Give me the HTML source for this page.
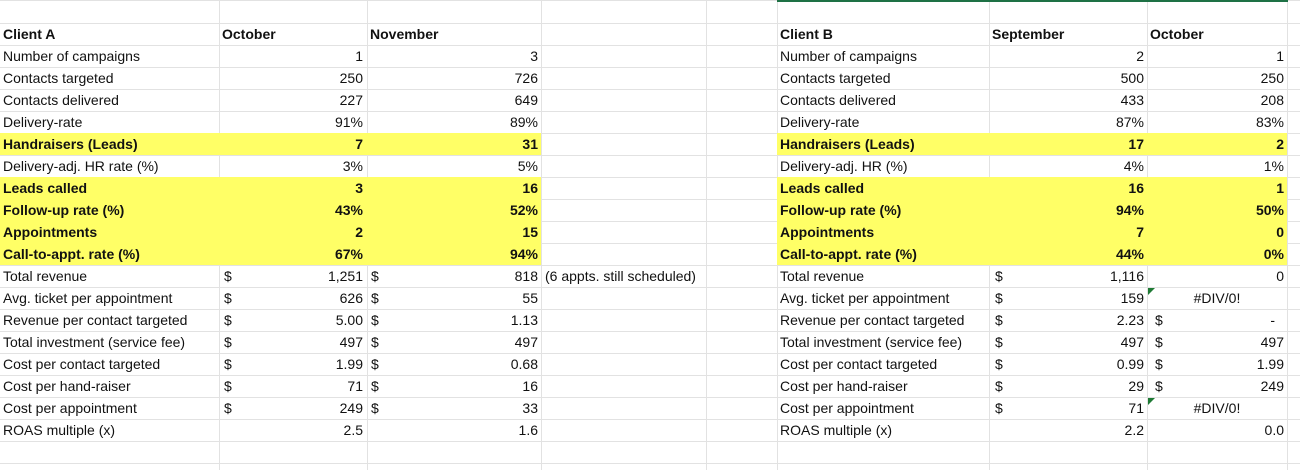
<!DOCTYPE html>
<html><head><meta charset="utf-8"><style>
body{margin:0;width:1300px;height:470px;overflow:hidden;background:#fff;font-family:"Liberation Sans",Arial,sans-serif;font-size:14px;color:#111;position:relative}
.vl{position:absolute;top:0;height:470px;width:1px;background:#e2e2e2}
.hl{position:absolute;left:0;width:1300px;height:1px;background:#e2e2e2}
.y{position:absolute;height:88px;background:#ffff66}
.r{position:absolute;left:0;width:1300px;height:22px;line-height:22px}
.r span{position:absolute;top:0;white-space:nowrap}
.b1 span{font-weight:bold}
.a{left:3px}.f{left:780px}
.b{left:219px;width:144px;text-align:right}
.c{left:367px;width:171px;text-align:right}
.g{left:989px;width:155px;text-align:right}
.h{left:1147px;width:137px;text-align:right}
.hc{left:1147px;width:140px;text-align:center}
.bd{left:224px}.cd{left:371px}.gd{left:995px}.hd{left:1155px}.d{left:545px}
.bh{left:222px}.ch{left:370px}.gh{left:992px}.hh{left:1150px}
.tri{position:absolute;width:0;height:0;border-top:7px solid #1e7a34;border-right:7px solid transparent}
</style></head><body>
<div class="hl" style="top:0"></div>
<div class="hl" style="top:23px"></div><div class="hl" style="top:45px"></div><div class="hl" style="top:67px"></div><div class="hl" style="top:89px"></div><div class="hl" style="top:111px"></div><div class="hl" style="top:133px"></div><div class="hl" style="top:155px"></div><div class="hl" style="top:177px"></div><div class="hl" style="top:199px"></div><div class="hl" style="top:221px"></div><div class="hl" style="top:243px"></div><div class="hl" style="top:265px"></div><div class="hl" style="top:287px"></div><div class="hl" style="top:309px"></div><div class="hl" style="top:331px"></div><div class="hl" style="top:353px"></div><div class="hl" style="top:375px"></div><div class="hl" style="top:397px"></div><div class="hl" style="top:419px"></div><div class="hl" style="top:441px"></div><div class="hl" style="top:463px"></div>
<div class="vl" style="left:219px"></div><div class="vl" style="left:367px"></div><div class="vl" style="left:541px"></div><div class="vl" style="left:706px"></div><div class="vl" style="left:777px"></div><div class="vl" style="left:989px"></div><div class="vl" style="left:1147px"></div><div class="vl" style="left:1287px"></div>
<div style="position:absolute;left:777px;top:0;width:511px;height:2px;background:#1e7145"></div>
<div class="y" style="left:0;top:133px;width:541px;height:22px"></div>
<div class="y" style="left:777px;top:133px;width:510px;height:22px"></div>
<div class="y" style="left:0;top:177px;width:541px"></div>
<div class="y" style="left:777px;top:177px;width:510px"></div>

<div class="r b1" style="top:23px"><span class="a">Client A</span><span class="bh">October</span><span class="ch">November</span><span class="f">Client B</span><span class="gh">September</span><span class="hh">October</span></div>
<div class="r" style="top:45px"><span class="a">Number of campaigns</span><span class="b">1</span><span class="c">3</span><span class="f">Number of campaigns</span><span class="g">2</span><span class="h">1</span></div>
<div class="r" style="top:67px"><span class="a">Contacts targeted</span><span class="b">250</span><span class="c">726</span><span class="f">Contacts targeted</span><span class="g">500</span><span class="h">250</span></div>
<div class="r" style="top:89px"><span class="a">Contacts delivered</span><span class="b">227</span><span class="c">649</span><span class="f">Contacts delivered</span><span class="g">433</span><span class="h">208</span></div>
<div class="r" style="top:111px"><span class="a">Delivery-rate</span><span class="b">91%</span><span class="c">89%</span><span class="f">Delivery-rate</span><span class="g">87%</span><span class="h">83%</span></div>
<div class="r b1" style="top:133px"><span class="a">Handraisers (Leads)</span><span class="b">7</span><span class="c">31</span><span class="f">Handraisers (Leads)</span><span class="g">17</span><span class="h">2</span></div>
<div class="r" style="top:155px"><span class="a">Delivery-adj. HR rate (%)</span><span class="b">3%</span><span class="c">5%</span><span class="f">Delivery-adj. HR (%)</span><span class="g">4%</span><span class="h">1%</span></div>
<div class="r b1" style="top:177px"><span class="a">Leads called</span><span class="b">3</span><span class="c">16</span><span class="f">Leads called</span><span class="g">16</span><span class="h">1</span></div>
<div class="r b1" style="top:199px"><span class="a">Follow-up rate (%)</span><span class="b">43%</span><span class="c">52%</span><span class="f">Follow-up rate (%)</span><span class="g">94%</span><span class="h">50%</span></div>
<div class="r b1" style="top:221px"><span class="a">Appointments</span><span class="b">2</span><span class="c">15</span><span class="f">Appointments</span><span class="g">7</span><span class="h">0</span></div>
<div class="r b1" style="top:243px"><span class="a">Call-to-appt. rate (%)</span><span class="b">67%</span><span class="c">94%</span><span class="f">Call-to-appt. rate (%)</span><span class="g">44%</span><span class="h">0%</span></div>
<div class="r" style="top:265px"><span class="a">Total revenue</span><span class="bd">$</span><span class="b">1,251</span><span class="cd">$</span><span class="c">818</span><span class="d">(6 appts. still scheduled)</span><span class="f">Total revenue</span><span class="gd">$</span><span class="g">1,116</span><span class="h">0</span></div>
<div class="r" style="top:287px"><span class="a">Avg. ticket per appointment</span><span class="bd">$</span><span class="b">626</span><span class="cd">$</span><span class="c">55</span><span class="f">Avg. ticket per appointment</span><span class="gd">$</span><span class="g">159</span><span class="hc">#DIV/0!</span></div>
<div class="r" style="top:309px"><span class="a">Revenue per contact targeted</span><span class="bd">$</span><span class="b">5.00</span><span class="cd">$</span><span class="c">1.13</span><span class="f">Revenue per contact targeted</span><span class="gd">$</span><span class="g">2.23</span><span class="hd">$</span><span class="h" style="width:128px">-</span></div>
<div class="r" style="top:331px"><span class="a">Total investment (service fee)</span><span class="bd">$</span><span class="b">497</span><span class="cd">$</span><span class="c">497</span><span class="f">Total investment (service fee)</span><span class="gd">$</span><span class="g">497</span><span class="hd">$</span><span class="h">497</span></div>
<div class="r" style="top:353px"><span class="a">Cost per contact targeted</span><span class="bd">$</span><span class="b">1.99</span><span class="cd">$</span><span class="c">0.68</span><span class="f">Cost per contact targeted</span><span class="gd">$</span><span class="g">0.99</span><span class="hd">$</span><span class="h">1.99</span></div>
<div class="r" style="top:375px"><span class="a">Cost per hand-raiser</span><span class="bd">$</span><span class="b">71</span><span class="cd">$</span><span class="c">16</span><span class="f">Cost per hand-raiser</span><span class="gd">$</span><span class="g">29</span><span class="hd">$</span><span class="h">249</span></div>
<div class="r" style="top:397px"><span class="a">Cost per appointment</span><span class="bd">$</span><span class="b">249</span><span class="cd">$</span><span class="c">33</span><span class="f">Cost per appointment</span><span class="gd">$</span><span class="g">71</span><span class="hc">#DIV/0!</span></div>
<div class="r" style="top:419px"><span class="a">ROAS multiple (x)</span><span class="b">2.5</span><span class="c">1.6</span><span class="f">ROAS multiple (x)</span><span class="g">2.2</span><span class="h">0.0</span></div>
<div class="tri" style="left:1148px;top:288px"></div>
<div class="tri" style="left:1148px;top:398px"></div>
</body></html>
